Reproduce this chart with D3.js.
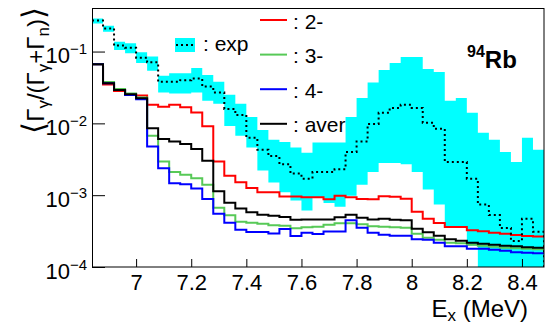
<!DOCTYPE html>
<html>
<head>
<meta charset="utf-8">
<script src="https://cdn.jsdelivr.net/npm/d3@7"></script>
<style>
body { margin: 0; background: #fff; }
text { font-family: "Liberation Sans", Arial, Helvetica, sans-serif; fill: #000; }
</style>
</head>
<body>
<script>
// bin lower edges in MeV (bin width 0.04), last edge closes the histogram
var binEdges = [6.84, 6.88, 6.92, 6.96, 7.00, 7.04, 7.08, 7.12, 7.16, 7.20,
                7.24, 7.28, 7.32, 7.36, 7.40, 7.44, 7.48, 7.52, 7.56, 7.60,
                7.64, 7.68, 7.72, 7.76, 7.80, 7.84, 7.88, 7.92, 7.96, 8.00,
                8.04, 8.08, 8.12, 8.16, 8.20, 8.24, 8.28, 8.32, 8.36, 8.40, 8.44];
var lastEdge = 8.48;

// experimental values and band
var expVal = [0.27, 0.21, 0.121, 0.113, 0.082, 0.071, 0.038, 0.038, 0.040, 0.042,
              0.0325, 0.027, 0.0159, 0.0131, 0.0063, 0.0043, 0.0035, 0.0027, 0.0020, 0.0017,
              0.0021, 0.0021, 0.0023, 0.0040, 0.0056, 0.0098, 0.014, 0.0164, 0.0181, 0.0164,
              0.0102, 0.0084, 0.0029, 0.0029, 0.0017, 7.4e-4, 5.3e-4, 3.5e-4, 2.3e-4, 4.7e-4, 3.1e-4];
var expHigh = [0.288, 0.229, 0.137, 0.130, 0.098, 0.085, 0.046, 0.050, 0.050, 0.059,
               0.047, 0.038, 0.025, 0.0187, 0.0123, 0.0081, 0.0059, 0.0055, 0.0046, 0.0039,
               0.0054, 0.0054, 0.0054, 0.0123, 0.0226, 0.037, 0.0555, 0.069, 0.084, 0.084,
               0.057, 0.052, 0.0206, 0.0226, 0.014, 0.0074, 0.0059, 0.0040, 0.0029, 0.0063, 0.0043];
var expLow = [0.246, 0.189, 0.105, 0.095, 0.069, 0.054, 0.027, 0.026, 0.026, 0.027,
              0.0206, 0.0187, 0.0092, 0.0067, 0.0046, 0.0022, 0.0015, 0.0011, 8.4e-4, 6.1e-4,
              9.2e-4, 7.8e-4, 6.9e-4, 9.8e-4, 0.0014, 0.0021, 0.0028, 0.0028, 0.0027, 0.0021,
              0.0012, 7.4e-4, 3.5e-4, 3.5e-4, 2.0e-4, 5e-5, 5e-5, 5e-5, 5e-5, 5e-5, 5e-5];

// model calculations for 2-, 3-, 4- and their average
var spin2 = [0.0666, 0.0349, 0.0283, 0.0253, 0.0244, 0.0181, 0.0171, 0.0181, 0.0167, 0.0142,
             0.0091, 0.00294, 0.00186, 0.00151, 0.00126, 0.0011, 0.0011, 9.6e-4, 9.6e-4, 9.35e-4,
             9.35e-4, 8.8e-4, 9.8e-4, 9.35e-4, 8.85e-4, 8.8e-4, 9.7e-4, 9.5e-4, 8.9e-4, 5.9e-4,
             4.7e-4, 4.1e-4, 3.6e-4, 3.6e-4, 3.25e-4, 3.15e-4, 3.0e-4, 2.9e-4, 2.8e-4, 2.7e-4, 2.65e-4];
var spin3 = [0.0666, 0.0378, 0.0302, 0.0261, 0.0230, 0.0067, 0.00294, 0.0021, 0.00192, 0.00172,
             0.0014, 6.7e-4, 5.25e-4, 4.27e-4, 4.13e-4, 4.0e-4, 3.81e-4, 3.75e-4, 3.47e-4, 3.58e-4,
             3.64e-4, 3.87e-4, 4.06e-4, 4.06e-4, 3.94e-4, 3.69e-4, 3.64e-4, 3.58e-4, 3.52e-4, 2.9e-4,
             2.56e-4, 2.4e-4, 2.18e-4, 2.14e-4, 2.04e-4, 1.98e-4, 1.92e-4, 1.85e-4, 1.82e-4, 1.8e-4, 1.77e-4];
var spin4 = [0.0666, 0.0362, 0.0292, 0.0249, 0.0216, 0.00475, 0.00238, 0.00147, 0.00142, 0.00124,
             8.85e-4, 5.5e-4, 4.13e-4, 3.3e-4, 3.07e-4, 3.07e-4, 2.93e-4, 3.39e-4, 2.7e-4, 3.0e-4,
             2.89e-4, 3.13e-4, 3.13e-4, 4.48e-4, 3.52e-4, 3.0e-4, 2.81e-4, 2.72e-4, 2.72e-4, 2.44e-4,
             2.4e-4, 2.18e-4, 1.95e-4, 1.95e-4, 1.8e-4, 1.8e-4, 1.74e-4, 1.69e-4, 1.61e-4, 1.58e-4, 1.56e-4];
var aver = [0.0666, 0.0362, 0.0292, 0.0255, 0.0223, 0.00857, 0.00608, 0.00558, 0.00514, 0.00438,
            0.00301, 0.00113, 7.84e-4, 6.53e-4, 5.78e-4, 5.34e-4, 5.17e-4, 4.98e-4, 4.55e-4, 4.59e-4,
            4.59e-4, 4.59e-4, 4.93e-4, 5.34e-4, 4.85e-4, 4.59e-4, 4.7e-4, 4.55e-4, 4.48e-4, 3.41e-4,
            3.05e-4, 2.72e-4, 2.44e-4, 2.32e-4, 2.18e-4, 2.11e-4, 2.04e-4, 1.98e-4, 1.95e-4, 1.88e-4, 1.85e-4];
// bin just left of the visible range (6.80-6.84) for each model
var leadEdge = 6.80;
var leadIn = [0.21, 0.21, 0.23, 0.21];

var modelNames = [": 2-", ": 3-", ": 4-", ": aver"];
var modelColors = ["#ff0000", "#57c957", "#0000ff", "#000000"];
var xMajor = [7.0, 7.2, 7.4, 7.6, 7.8, 8.0, 8.2, 8.4];
var yMajor = [1e-4, 1e-3, 1e-2, 1e-1];

var w = 547, h = 325;
var svg = d3.select("body").append("svg").attr("width", w).attr("height", h);

var x = d3.scaleLinear().domain([6.84, lastEdge]).range([92, 544]);
var y = d3.scaleLog().domain([1e-4, 0.404]).range([267, 8]);

svg.append("clipPath").attr("id", "plotclip")
   .append("rect").attr("x", 92).attr("y", 8).attr("width", 452).attr("height", 259);

var plot = svg.append("g").attr("clip-path", "url(#plotclip)");

function steps(edges, vals, end) {
  var pts = vals.map(function(v, i) { return [edges[i], v]; });
  pts.push([end, vals[vals.length - 1]]);
  return pts;
}
var stepLine = d3.line()
                 .x(function(d) { return x(d[0]); })
                 .y(function(d) { return y(d[1]); })
                 .curve(d3.curveStepAfter);

// cyan error band
var bandPts = binEdges.map(function(e, i) { return [e, expLow[i], expHigh[i]]; });
bandPts.push([lastEdge, expLow[expLow.length - 1], expHigh[expHigh.length - 1]]);
var band = d3.area()
             .x(function(d) { return x(d[0]); })
             .y0(function(d) { return y(d[1]); })
             .y1(function(d) { return y(d[2]); })
             .curve(d3.curveStepAfter);
plot.append("path").attr("d", band(bandPts)).attr("fill", "#00ffff");

// model histograms
var models = [spin2, spin3, spin4, aver];
models.forEach(function(m, k) {
  var pts = steps([leadEdge].concat(binEdges), [leadIn[k]].concat(m), lastEdge);
  plot.append("path")
      .attr("d", stepLine(pts))
      .attr("fill", "none")
      .attr("stroke", modelColors[k])
      .attr("stroke-width", 2);
});

// experimental histogram, dotted; drops to the axis at the end
var expPts = steps(binEdges, expVal, lastEdge);
expPts.push([lastEdge, 1e-5]);
plot.append("path")
    .attr("d", stepLine(expPts))
    .attr("fill", "none")
    .attr("stroke", "#000")
    .attr("stroke-width", 2)
    .attr("stroke-dasharray", "2,3");

// frame
svg.append("rect").attr("x", 92.5).attr("y", 8.5).attr("width", 451.5).attr("height", 258.5)
   .attr("fill", "none").attr("stroke", "#000").attr("stroke-width", 1);

// x axis
var xMinor = [];
for (var t = 6.85; t < lastEdge; t += 0.05) xMinor.push(+t.toFixed(2));
var xg = svg.append("g").attr("transform", "translate(0,267)");
xg.call(d3.axisBottom(x).tickValues(xMinor).tickSize(-4).tickFormat(""));
xg.call(d3.axisBottom(x).tickValues(xMajor).tickSize(-8).tickPadding(7)
          .tickFormat(function(d) { return d3.format("~g")(d); }));
xg.select(".domain").remove();
xg.selectAll(".tick line").attr("stroke", "#000");
xg.selectAll(".tick text").style("font-size", "22px").attr("dy", "0.72em");

// y axis
var yMinor = [];
yMajor.forEach(function(p) {
  for (var k = 2; k <= 9; k++) if (p * k <= 0.404) yMinor.push(p * k);
});
var yg = svg.append("g").attr("transform", "translate(92,0)");
yg.call(d3.axisLeft(y).tickValues(yMinor).tickSize(-7).tickFormat(""));
yg.call(d3.axisLeft(y).tickValues(yMajor).tickSize(-13).tickFormat(""));
yg.select(".domain").remove();
yg.selectAll(".tick line").attr("stroke", "#000");

svg.selectAll(".ylab").data(yMajor).enter().append("text")
   .attr("class", "ylab")
   .attr("x", 87)
   .attr("y", function(d) { return y(d) + 11.5; })
   .attr("text-anchor", "end")
   .style("font-size", "22px")
   .each(function(d) {
     var t = d3.select(this);
     t.append("tspan").text("10");
     t.append("tspan").attr("dy", -9).style("font-size", "15px")
      .text("\u2212" + Math.abs(Math.round(Math.log10(d))));
   });

// axis titles
var xt = svg.append("text").attr("x", 528).attr("y", 317).attr("text-anchor", "end")
            .style("font-size", "24px");
xt.append("tspan").text("E");
xt.append("tspan").attr("dy", 4).style("font-size", "17px").text("x");
xt.append("tspan").attr("dy", -4).text(" (MeV)");

var yt = svg.append("text").attr("transform", "translate(44,7) rotate(-90)")
            .attr("text-anchor", "end").style("font-size", "24px");
yt.append("tspan").style("font-size", "31px").text("\u27E8");
yt.append("tspan").text("\u0393");
yt.append("tspan").attr("dy", 5).style("font-size", "17px").text("\u03B3");
yt.append("tspan").attr("dy", -5).text("/(\u0393");
yt.append("tspan").attr("dy", 5).style("font-size", "17px").text("\u03B3");
yt.append("tspan").attr("dy", -5).text("+\u0393");
yt.append("tspan").attr("dy", 5).style("font-size", "17px").text("n");
yt.append("tspan").attr("dy", -5).text(")");
yt.append("tspan").style("font-size", "31px").text("\u27E9");

// nucleus label
var nl = svg.append("text").attr("x", 467).attr("y", 68).style("font-weight", "bold");
nl.append("tspan").attr("dy", -11).style("font-size", "16px").text("94");
nl.append("tspan").attr("dy", 11).style("font-size", "24px").text("Rb");

// legend: exp
svg.append("rect").attr("x", 175).attr("y", 38).attr("width", 20).attr("height", 14)
   .attr("fill", "#00ffff");
svg.append("line").attr("x1", 176).attr("x2", 195).attr("y1", 45).attr("y2", 45)
   .attr("stroke", "#000").attr("stroke-width", 2).attr("stroke-dasharray", "2,3");
svg.append("text").attr("x", 203).attr("y", 51).style("font-size", "21px").text(": exp");

// legend: models
var legend = svg.selectAll(".legend")
                .data(modelNames)
                .enter()
                .append("g")
                .attr("class", "legend")
                .attr("transform", function(d, i) { return "translate(260," + (20 + i * 34.6) + ")"; });
legend.append("line").attr("x1", 0).attr("x2", 27).attr("y1", 0).attr("y2", 0)
      .attr("stroke", function(d, i) { return modelColors[i]; }).attr("stroke-width", 2);
legend.append("text").attr("x", 33).attr("y", 8.5).style("font-size", "21px")
      .text(function(d) { return d; });
</script>
</body>
</html>
